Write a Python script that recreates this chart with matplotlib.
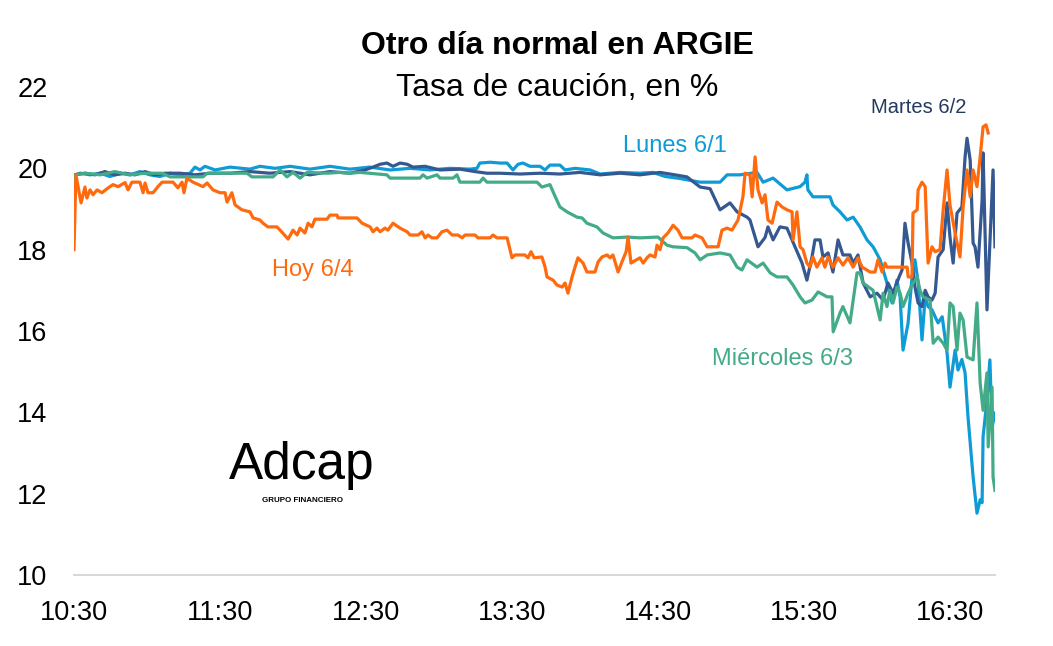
import matplotlib
matplotlib.use("Agg")
import matplotlib.pyplot as plt

plt.rcParams['font.family'] = ['Liberation Sans', 'DejaVu Sans']

# minutes after 10:30 and rate (%) for each day
hoy_min = [0, 0.8, 2.9, 4.5, 5.3, 6.6, 7.8, 9.5, 11.5, 13.6, 16.0, 18.1, 21.0, 22.2, 23.8, 27.1,
           28.4, 29.2, 30.4, 32.5, 34.5, 36.2, 40.7, 42.7, 44.4, 45.2, 46.4, 48.9, 53.0, 54.7,
           57.1, 60.0, 62.1, 62.9, 64.9, 66.2, 69.0, 72.3, 73.6, 76.4, 77.7, 79.7, 83.4, 84.7,
           88.0, 90.0, 91.7, 92.9, 94.9, 96.2, 97.8, 99.0, 104.0, 105.2, 108.1, 108.5, 116.3,
           118.4, 121.7, 122.9, 124.5, 125.8, 127.8, 129.0, 131.1, 134.0, 136.9, 138.1, 141.4,
           143.0, 144.3, 145.5, 147.1, 149.2, 151.2, 153.3, 155.4, 157.8, 159.5, 160.7, 164.8,
           166.0, 171.0, 172.2, 173.8, 178.0, 180.0, 181.2, 185.3, 186.6, 187.8, 189.1, 192.3,
           193.6, 194.4, 196.9, 198.5, 200.6, 201.8, 203.0, 204.7, 205.9, 207.1, 209.2, 210.8,
           214.1, 215.4, 217.0, 219.1, 220.3, 221.5, 223.6, 225.2, 226.9, 227.7, 228.9, 229.7,
           232.6, 233.9, 235.5, 236.7, 238.8, 239.6, 240.8, 242.1, 244.1, 246.2, 248.2, 249.9,
           254.0, 255.2, 258.1, 260.2, 264.7, 266.3, 268.4, 270.4, 272.9, 274.9, 275.8, 277.8,
           278.7, 279.9, 281.1, 282.8, 284.0, 285.2, 286.9, 288.9, 291.0, 293.0, 295.1, 295.5,
           297.1, 298.4, 299.6, 301.2, 302.5, 303.7, 305.3, 307.4, 308.6, 309.9, 311.9, 314.0,
           316.0, 318.1, 320.2, 322.2, 323.9, 327.2, 329.2, 330.4, 332.1, 333.3, 334.1, 342.4,
           342.8, 344.4, 344.8, 346.5, 346.9, 348.5, 349.8, 350.6, 351.0, 352.6, 353.9, 355.9,
           357.2, 358.8, 360.0, 362.1, 364.1, 365.4, 367.0, 368.3, 369.5, 371.1, 372.4, 373.6,
           374.8, 375.7]
hoy_val = [18.0, 19.84, 19.15, 19.54, 19.27, 19.47, 19.35, 19.47, 19.4, 19.5, 19.6, 19.55, 19.65,
           19.47, 19.66, 19.66, 19.4, 19.64, 19.4, 19.4, 19.55, 19.66, 19.66, 19.52, 19.66, 19.4,
           19.76, 19.66, 19.55, 19.64, 19.47, 19.4, 19.4, 19.17, 19.4, 19.1, 18.98, 18.93, 18.78,
           18.73, 18.65, 18.56, 18.56, 18.48, 18.26, 18.48, 18.36, 18.53, 18.41, 18.65, 18.56,
           18.75, 18.75, 18.85, 18.85, 18.78, 18.78, 18.65, 18.56, 18.44, 18.53, 18.44, 18.53,
           18.48, 18.65, 18.53, 18.44, 18.36, 18.36, 18.44, 18.29, 18.36, 18.29, 18.29, 18.44,
           18.48, 18.36, 18.36, 18.29, 18.36, 18.36, 18.29, 18.29, 18.36, 18.29, 18.29, 17.8,
           17.87, 17.87, 17.8, 17.95, 17.8, 17.82, 17.57, 17.33, 17.25, 17.13, 17.08, 17.18,
           16.93, 17.33, 17.57, 17.8, 17.67, 17.45, 17.45, 17.7, 17.82, 17.87, 17.8, 17.87,
           17.45, 17.7, 17.95, 18.31, 17.67, 17.7, 17.8, 17.67, 17.8, 17.87, 17.82, 18.11, 18.0,
           18.29, 18.41, 18.6, 18.48, 18.29, 18.29, 18.36, 18.29, 18.07, 18.07, 18.48, 18.53,
           18.48, 18.73, 19.3, 19.88, 19.84, 19.3, 20.28, 19.47, 19.15, 19.35, 18.73, 18.65,
           19.17, 19.05, 18.98, 18.93, 18.24, 18.93, 18.07, 18.0, 17.67, 17.57, 17.82, 17.57,
           17.8, 17.57, 17.82, 17.57, 17.8, 17.62, 17.8, 17.57, 17.8, 17.57, 17.45, 17.45, 17.75,
           17.45, 17.67, 17.57, 17.57, 17.33, 17.33, 18.9, 18.98, 19.47, 19.66, 19.55, 18.31,
           17.67, 18.07, 17.95, 18.0, 18.98, 19.96, 19.1, 18.41, 17.82, 19.05, 19.96, 19.3,
           19.96, 19.55, 20.28, 21.02, 21.07, 20.87]

lunes_min = [0, 0.4, 2.5, 6.6, 10.7, 14.8, 18.9, 23.0, 27.1, 31.2, 35.3, 39.5, 43.6, 47.7, 49.7,
             51.8, 53.8, 58.0, 64.1, 72.3, 76.4, 82.6, 88.8, 97.0, 105.2, 113.4, 121.6, 129.9,
             138.1, 146.3, 154.5, 162.7, 165.6, 166.8, 171.0, 175.1, 178.0, 180.4, 182.5, 184.5,
             187.4, 191.5, 193.6, 195.6, 199.7, 201.8, 205.9, 212.1, 216.2, 224.4, 232.6, 237.9,
             242.9, 249.0, 257.3, 265.5, 268.4, 273.7, 280.7, 283.2, 287.3, 293.0, 298.4, 300.4,
             301.2, 301.6, 303.7, 310.7, 311.9, 314.8, 317.7, 320.2, 323.0, 325.9, 328.4, 331.3,
             334.1, 336.2, 338.2, 339.5, 340.7, 342.8, 344.4, 345.6, 346.9, 348.5, 349.8, 351.0,
             352.6, 353.9, 355.1, 356.8, 358.8, 360.0, 362.1, 363.3, 364.9, 366.2, 367.4, 369.5,
             371.1, 372.4, 373.2, 373.6, 375.2, 376.4, 377.3, 378.5]
lunes_val = [19.8, 19.84, 19.88, 19.84, 19.88, 19.8, 19.88, 19.84, 19.92, 19.84, 19.8, 19.88,
             19.84, 19.88, 20.03, 19.96, 20.05, 19.96, 20.03, 19.98, 20.05, 20.0, 20.05, 19.98,
             20.05, 19.98, 20.03, 19.96, 20.0, 19.96, 20.0, 19.98, 20.0, 20.13, 20.15, 20.13,
             20.13, 19.96, 20.1, 20.13, 20.05, 20.05, 19.96, 20.08, 20.08, 19.96, 20.0, 19.96,
             19.86, 19.9, 19.88, 19.9, 19.8, 19.75, 19.66, 19.66, 19.84, 19.84, 19.9, 19.66,
             19.76, 19.47, 19.55, 19.66, 19.84, 19.47, 19.3, 19.3, 19.1, 18.93, 18.73, 18.8,
             18.56, 18.24, 18.07, 17.75, 17.18, 16.69, 17.25, 16.84, 15.53, 16.2, 17.33, 17.75,
             17.2, 15.78, 16.84, 16.6, 16.52, 16.35, 16.2, 16.35, 15.46, 14.62, 15.53, 15.04,
             15.3, 14.97, 13.89, 12.41, 11.52, 11.85, 11.78, 13.4, 14.3, 15.29, 13.64, 13.98]

martes_min = [0, 0.4, 4.5, 8.6, 12.7, 16.8, 21.0, 25.1, 29.2, 33.3, 37.4, 43.6, 49.7, 55.9, 64.1,
              72.3, 80.5, 88.8, 97.0, 105.2, 113.4, 119.6, 122.9, 125.8, 128.6, 131.1, 134.0,
              136.9, 139.3, 144.3, 150.4, 158.6, 164.8, 169.7, 175.1, 183.3, 191.5, 199.7, 207.9,
              216.2, 224.4, 232.6, 240.8, 247.0, 251.9, 257.3, 261.4, 265.5, 269.6, 272.5, 276.6,
              277.8, 281.1, 284.0, 285.2, 287.3, 290.1, 293.0, 295.1, 296.3, 299.2, 301.2, 303.3,
              304.5, 306.6, 307.8, 309.9, 311.9, 314.0, 316.0, 318.9, 320.2, 322.2, 324.3, 327.2,
              330.0, 332.5, 334.5, 336.6, 339.1, 340.3, 341.5, 342.8, 344.4, 345.6, 346.9, 348.5,
              349.8, 351.0, 352.6, 353.9, 355.1, 357.2, 358.8, 360.0, 361.3, 362.9, 364.9, 366.2,
              367.0, 368.3, 369.5, 370.3, 371.5, 373.2, 373.6, 375.2, 376.4, 377.7, 378.5]
martes_val = [19.76, 19.84, 19.88, 19.84, 19.92, 19.84, 19.88, 19.84, 19.92, 19.84, 19.88, 19.88,
              19.84, 19.88, 19.88, 19.92, 19.88, 19.92, 19.84, 19.92, 19.88, 19.96, 20.03, 20.1,
              20.13, 20.05, 20.13, 20.1, 20.03, 20.05, 19.96, 19.98, 19.92, 19.88, 19.88, 19.86,
              19.88, 19.86, 19.9, 19.84, 19.88, 19.84, 19.9, 19.84, 19.79, 19.54, 19.5, 18.98,
              19.15, 18.93, 18.8, 18.73, 18.07, 18.3, 18.56, 18.24, 18.56, 18.53, 18.24, 18.07,
              17.67, 17.25, 17.82, 18.24, 18.24, 17.82, 17.92, 17.45, 18.24, 17.87, 17.87, 17.67,
              17.87, 17.18, 16.84, 16.93, 16.76, 17.18, 16.93, 17.33, 17.5, 18.65, 18.16, 17.67,
              17.08, 16.69, 16.6, 17.0, 16.84, 16.76, 16.93, 17.82, 18.0, 19.15, 18.31, 17.67,
              18.9, 19.05, 20.28, 20.74, 20.2, 18.16, 18.07, 17.57, 19.22, 20.38, 16.52, 18.16,
              19.96, 18.07]

miercoles_min = [0, 0.4, 4.5, 10.7, 16.8, 23.0, 29.2, 36.2, 39.5, 53.0, 54.7, 71.1, 73.1, 81.8,
                 84.7, 87.5, 90.0, 92.9, 95.8, 104.0, 109.3, 113.4, 117.5, 128.6, 129.9, 142.2,
                 143.4, 145.1, 149.2, 150.4, 155.8, 157.4, 158.6, 166.8, 168.1, 169.7, 190.3,
                 192.3, 195.6, 196.9, 199.7, 202.6, 206.7, 208.8, 210.8, 214.9, 217.4, 221.5,
                 227.3, 232.6, 240.0, 243.7, 246.2, 251.9, 255.2, 257.3, 260.2, 265.5, 269.6,
                 272.5, 274.5, 276.6, 280.7, 283.2, 286.1, 288.9, 293.0, 295.5, 298.4, 300.4,
                 303.3, 305.8, 309.5, 311.5, 312.0, 314.8, 316.0, 318.9, 321.8, 323.0, 324.3,
                 328.4, 331.3, 332.5, 334.1, 335.3, 336.6, 338.2, 339.5, 340.7, 342.8, 344.8,
                 346.5, 347.7, 348.9, 351.8, 353.1, 355.1, 357.2, 358.8, 360.0, 361.3, 362.9,
                 364.1, 365.4, 367.0, 369.5, 371.1, 372.4, 373.6, 375.2, 375.7, 377.3, 377.7,
                 378.5]
miercoles_val = [18.93, 19.84, 19.88, 19.84, 19.92, 19.84, 19.88, 19.88, 19.79, 19.79, 19.88,
                 19.88, 19.79, 19.79, 19.96, 19.79, 19.9, 19.76, 19.9, 19.88, 19.9, 19.88, 19.9,
                 19.84, 19.76, 19.76, 19.84, 19.76, 19.84, 19.76, 19.76, 19.84, 19.66, 19.66,
                 19.76, 19.66, 19.66, 19.54, 19.6, 19.42, 19.05, 18.93, 18.8, 18.78, 18.65,
                 18.56, 18.41, 18.29, 18.31, 18.29, 18.31, 18.11, 18.07, 18.05, 17.92, 17.75,
                 17.87, 17.92, 17.87, 17.57, 17.5, 17.75, 17.57, 17.67, 17.43, 17.33, 17.33,
                 17.13, 16.84, 16.69, 16.76, 16.96, 16.84, 16.84, 15.98, 16.44, 16.6, 16.2,
                 17.43, 17.43, 17.18, 17.0, 16.27, 16.93, 16.6, 17.0, 16.69, 17.08, 16.93, 16.6,
                 16.93, 17.18, 17.33, 17.0, 16.84, 16.76, 15.7, 15.85, 15.7, 15.53, 16.69, 16.6,
                 15.53, 16.44, 16.27, 15.36, 15.29, 16.69, 14.72, 14.05, 14.97, 13.15, 14.62,
                 12.41, 12.08]

tick_min = [0, 60, 120, 180, 240, 300, 360]
tick_labels = ['10:30', '11:30', '12:30', '13:30', '14:30', '15:30', '16:30']

c_lunes = '#0E9BD6'
c_martes = '#34588F'
c_miercoles = '#43AB88'
c_hoy = '#FF6A0E'

fig = plt.figure(figsize=(10.53, 6.46), dpi=100)
ax = fig.add_axes([74 / 1053, 1 - 575 / 646, (995 - 74) / 1053, (575 - 87) / 646])

ax.plot(lunes_min, lunes_val, color=c_lunes, lw=2.3)
ax.plot(martes_min, martes_val, color=c_martes, lw=2.3)
ax.plot(miercoles_min, miercoles_val, color=c_miercoles, lw=2.3)
ax.plot(hoy_min, hoy_val, color=c_hoy, lw=2.3)

ax.set_xlim(0, 378.5)
ax.set_ylim(10, 22)
ax.set_yticks([10, 12, 14, 16, 18, 20, 22])
ax.set_xticks(tick_min)
ax.set_xticklabels(tick_labels)
ax.tick_params(axis='both', length=0, labelsize=19.5, colors='black')
ax.tick_params(axis='y', pad=19)
ax.tick_params(axis='x', pad=18)
for s in ['top', 'right', 'left']:
    ax.spines[s].set_visible(False)
ax.spines['bottom'].set_color('#D9D9D9')
ax.spines['bottom'].set_linewidth(1.5)

# series labels
ax.text(247, 20.55, 'Lunes 6/1', color=c_lunes, fontsize=17, ha='center', va='center')
ax.text(347, 21.5, 'Martes 6/2', color='#233A5E', fontsize=14.5, ha='center', va='center')
ax.text(98, 17.5, 'Hoy 6/4', color=c_hoy, fontsize=17, ha='center', va='center')
ax.text(291, 15.3, 'Miércoles 6/3', color=c_miercoles, fontsize=17, ha='center', va='center')

fig.text(557 / 1053, 1 - 46 / 646, 'Otro día normal en ARGIE', fontsize=23, fontweight='bold',
         ha='center', va='center')
fig.text(557 / 1053, 1 - 88 / 646, 'Tasa de caución, en %', fontsize=23,
         ha='center', va='center')

# logo
fig.text(302 / 1053, 1 - 466 / 646, 'Adcap', fontsize=37, ha='center', va='center')
fig.text(303 / 1053, 1 - 501 / 646, 'GRUPO FINANCIERO', fontsize=5.8, fontweight='bold',
         ha='center', va='center')

fig.savefig('out.png', dpi=100)
